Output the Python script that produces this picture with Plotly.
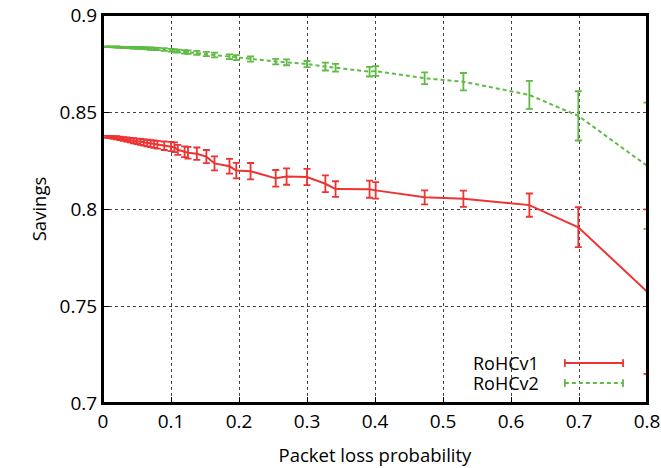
import plotly.graph_objects as go

# Packet loss probability (shared x values)
loss_prob = [0.005, 0.01, 0.015, 0.02, 0.025, 0.03, 0.035, 0.04, 0.045, 0.05,
             0.055, 0.06, 0.065, 0.07, 0.075, 0.08, 0.09, 0.1, 0.105, 0.11,
             0.12, 0.125, 0.138, 0.152, 0.164, 0.186, 0.196, 0.217, 0.254, 0.27,
             0.3, 0.327, 0.342, 0.392, 0.401, 0.473, 0.53, 0.627, 0.699, 0.8]

rohcv1_savings = [0.8372, 0.8371, 0.8369, 0.8367, 0.8364, 0.8361, 0.8358, 0.8355, 0.8352, 0.8349,
                  0.8346, 0.8343, 0.8340, 0.8337, 0.8334, 0.8331, 0.8326, 0.8322, 0.8318, 0.8305,
                  0.8295, 0.8290, 0.8285, 0.8270, 0.8235, 0.8220, 0.8198, 0.8195, 0.8158, 0.8167,
                  0.8165, 0.8130, 0.8103, 0.8102, 0.8096, 0.8060, 0.8053, 0.8020, 0.7906, 0.7574]
rohcv1_err = [0.0005, 0.0006, 0.0007, 0.0008, 0.0009, 0.0010, 0.0011, 0.0012, 0.0013, 0.0014,
              0.0015, 0.0016, 0.0017, 0.0018, 0.0019, 0.0020, 0.0022, 0.0024, 0.0025, 0.0026,
              0.0028, 0.0030, 0.0032, 0.0034, 0.0036, 0.0038, 0.0040, 0.0042, 0.0043, 0.0042,
              0.0042, 0.0043, 0.0040, 0.0044, 0.0043, 0.0036, 0.0042, 0.0060, 0.0103, 0.0424]

rohcv2_savings = [0.8836, 0.8836, 0.8835, 0.8835, 0.8834, 0.8833, 0.8833, 0.8832, 0.8831, 0.8830,
                  0.8830, 0.8829, 0.8828, 0.8827, 0.8826, 0.8825, 0.8822, 0.8818, 0.8816, 0.8814,
                  0.8810, 0.8809, 0.8805, 0.8799, 0.8794, 0.8785, 0.8780, 0.8773, 0.8760, 0.8756,
                  0.8747, 0.8734, 0.8728, 0.8708, 0.8711, 0.8674, 0.8656, 0.8588, 0.8480, 0.8223]
rohcv2_err = [0.0002, 0.0002, 0.0002, 0.0003, 0.0003, 0.0003, 0.0003, 0.0004, 0.0004, 0.0004,
              0.0005, 0.0005, 0.0005, 0.0006, 0.0006, 0.0006, 0.0007, 0.0007, 0.0008, 0.0008,
              0.0009, 0.0009, 0.0010, 0.0011, 0.0012, 0.0012, 0.0013, 0.0013, 0.0014, 0.0015,
              0.0016, 0.0020, 0.0020, 0.0025, 0.0025, 0.0030, 0.0045, 0.0072, 0.0127, 0.0325]

x_ticks = [0, 0.1, 0.2, 0.3, 0.4, 0.5, 0.6, 0.7, 0.8]
x_tick_labels = ["0", "0.1", "0.2", "0.3", "0.4", "0.5", "0.6", "0.7", "0.8"]
y_ticks = [0.7, 0.75, 0.8, 0.85, 0.9]
y_tick_labels = ["0.7", "0.75", "0.8", "0.85", "0.9"]
series_names = ["RoHCv1", "RoHCv2"]

RED = "#ee3333"
GREEN = "#5fbb44"
FONT = "Open Sans"

fig = go.Figure()
fig.add_trace(go.Scatter(
    x=loss_prob, y=rohcv1_savings, mode="lines", name=series_names[0],
    line=dict(color=RED, width=2),
    error_y=dict(type="data", array=rohcv1_err, color=RED, thickness=1.8, width=3.5),
    showlegend=False, cliponaxis=False))
fig.add_trace(go.Scatter(
    x=loss_prob, y=rohcv2_savings, mode="lines", name=series_names[1],
    line=dict(color=GREEN, width=2, dash="4px,3px"),
    error_y=dict(type="data", array=rohcv2_err, color=GREEN, thickness=1.8, width=3.5),
    showlegend=False, cliponaxis=False))

axis_common = dict(
    showline=True, linecolor="black", linewidth=2, mirror=True,
    ticks="inside", ticklen=6, tickcolor="black", tickwidth=1,
    showgrid=True, gridcolor="#444444", gridwidth=1, griddash="dot",
    zeroline=False, tickfont=dict(family=FONT, size=19, color="black"),
)

fig.update_xaxes(range=[0, 0.8], tickvals=x_ticks, ticktext=x_tick_labels,
                 title=dict(text="Packet loss probability",
                            font=dict(family=FONT, size=18.5, color="black"), standoff=16),
                 **axis_common)
fig.update_yaxes(range=[0.7, 0.9], tickvals=y_ticks, ticktext=y_tick_labels,
                 ticksuffix="  ",
                 title=dict(text="Savings",
                            font=dict(family=FONT, size=18.5, color="black"), standoff=8),
                 **axis_common)

# gnuplot-style legend: label on the left, sample line on the right
legend_rows = [(0.103, RED, "solid"), (0.0515, GREEN, "4px,3px")]
x_text = 0.805
x0, x1 = 0.849, 0.956
cap = 0.010
shapes = [dict(type="rect", xref="paper", yref="paper", x0=0, x1=1, y0=0, y1=1,
               line=dict(color="black", width=2), layer="above")]
annotations = []
for name, (yp, col, dash) in zip(series_names, legend_rows):
    annotations.append(dict(xref="paper", yref="paper", x=x_text, y=yp, text=name,
                            showarrow=False, xanchor="right", yanchor="middle",
                            font=dict(family=FONT, size=18, color="black")))
    shapes.append(dict(type="line", xref="paper", yref="paper", x0=x0, x1=x1, y0=yp, y1=yp,
                       line=dict(color=col, width=2, dash=dash)))
    for xc in (x0, x1):
        shapes.append(dict(type="line", xref="paper", yref="paper", x0=xc, x1=xc,
                           y0=yp - cap, y1=yp + cap, line=dict(color=col, width=1.8)))

fig.update_layout(
    width=661, height=468,
    margin=dict(l=103, r=14, t=15, b=65, autoexpand=False),
    paper_bgcolor="white", plot_bgcolor="white",
    shapes=shapes, annotations=annotations,
    font=dict(family=FONT, size=18, color="black"),
)

fig.write_html("out.html", config={"displayModeBar": False},
               post_script="document.body.style.margin='0';document.body.style.overflow='hidden';")
